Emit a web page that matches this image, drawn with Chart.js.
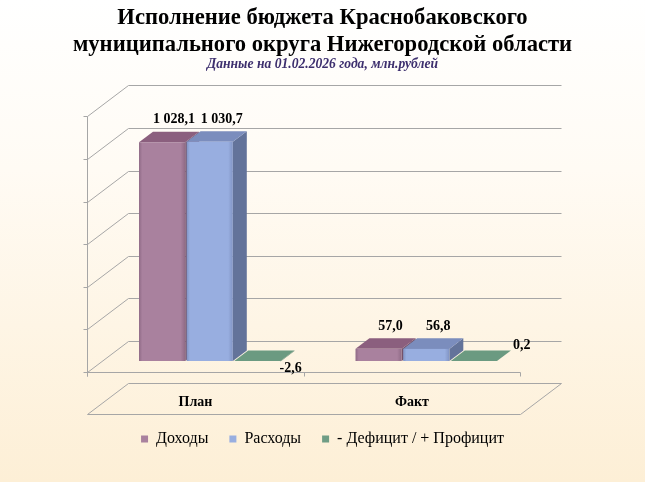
<!DOCTYPE html>
<html>
<head>
 <meta charset="UTF-8">
 <title>Исполнение бюджета Краснобаковского муниципального округа</title>
 <script src="https://cdn.jsdelivr.net/npm/chart.js@4.4.1/dist/chart.umd.min.js"></script>
 <style>
  html, body { margin: 0; padding: 0; }
  #wrap { position: relative; width: 645px; height: 482px;
          background: linear-gradient(to bottom, #ffffff 0%, #fffbf4 35%, #fdefd6 100%); }
 </style>
</head>
<body>
<div id="wrap"><canvas id="myChart"></canvas></div>

<script>
 // data, mln rub
 var categories = ["План", "Факт"];
 var seriesNames = ["Доходы", "Расходы", "- Дефицит / + Профицит"];
 var incomeValues = [1028.1, 57.0];
 var expenseValues = [1030.7, 56.8];
 var balanceValues = [-2.6, 0.2];
 var axisMin = 0, axisMax = 1200, axisStep = 200;

 var serif = "'Times New Roman', 'Liberation Serif', serif";

 // face colours: front / top / side
 var faceColors = [
  { front: "#a9819e", edge: "#8f6a86", top: "#8b5f7e", side: "#74526b" },
  { front: "#98aee0", edge: "#8194c4", top: "#7b8dbd", side: "#63739a" },
  { front: "#6f9d85", edge: "#5d8a72", top: "#6b9a81", side: "#557f69" }
 ];

 // 3d box: full depth vector, bar plane position and bar depth as fractions of it
 var DEPTH_X = 41, DEPTH_Y = -31;
 var BAR_FRONT = 0.35, BAR_DEPTH = 0.34;

 function fmt(v)
 {
  var s = Math.abs(v).toFixed(1).split(".");
  var whole = s[0].replace(/\B(?=(\d{3})+(?!\d))/g, " ");
  return (v < 0 ? "-" : "") + whole + "," + s[1];
 }

 function px(v) { return Math.round(v) + 0.5; }

 function drawBar(ctx, el, c)
 {
  var p = el.getProps(["x", "y", "base", "width"], true);
  var l = p.x - p.width / 2, r = p.x + p.width / 2;
  var top = Math.min(p.y, p.base), bot = Math.max(p.y, p.base);
  var dx = BAR_DEPTH * DEPTH_X, dy = BAR_DEPTH * DEPTH_Y;

  ctx.fillStyle = c.side;
  ctx.beginPath();
  ctx.moveTo(r, top); ctx.lineTo(r + dx, top + dy); ctx.lineTo(r + dx, bot + dy); ctx.lineTo(r, bot);
  ctx.closePath(); ctx.fill();

  ctx.fillStyle = c.top;
  ctx.beginPath();
  ctx.moveTo(l, top); ctx.lineTo(r, top); ctx.lineTo(r + dx, top + dy); ctx.lineTo(l + dx, top + dy);
  ctx.closePath(); ctx.fill();

  if (bot - top > 1)
  {
   var g = ctx.createLinearGradient(l, 0, r, 0);
   g.addColorStop(0, c.edge);
   g.addColorStop(0.07, c.front);
   g.addColorStop(0.9, c.front);
   g.addColorStop(1, c.edge);
   ctx.fillStyle = g;
   ctx.fillRect(l, top, r - l, bot - top);
  }
  return { l: l, r: r, top: top, bot: bot, x: p.x, dx: dx, dy: dy };
 }

 var box3d = {
  id: "box3d",
  beforeDatasetsDraw: function(chart)
  {
   var ctx = chart.ctx, area = chart.chartArea;
   var ys = chart.scales.y, xs = chart.scales.x;
   var fx = -BAR_FRONT * DEPTH_X, fy = -BAR_FRONT * DEPTH_Y;
   var bx = (1 - BAR_FRONT) * DEPTH_X, by = (1 - BAR_FRONT) * DEPTH_Y;
   var y0 = ys.getPixelForValue(0), yTop = ys.getPixelForValue(axisMax);
   var axX = px(area.left + fx);

   ctx.save();
   ctx.strokeStyle = "#a6a6a6";
   ctx.lineWidth = 1;
   ctx.beginPath();
   // walls and gridlines
   ys.ticks.forEach(function(t)
   {
    var py = ys.getPixelForValue(t.value);
    ctx.moveTo(axX - 4, px(py + fy));
    ctx.lineTo(axX, px(py + fy));
    ctx.lineTo(px(area.left + bx), px(py + by));
    ctx.lineTo(px(area.right + bx), px(py + by));
   });
   // value axis
   ctx.moveTo(axX, px(yTop + fy));
   ctx.lineTo(axX, px(y0 + fy) + 4);
   // floor front edge with category ticks
   var floorY = px(y0 + fy);
   ctx.moveTo(axX, floorY);
   ctx.lineTo(px(area.right + fx), floorY);
   [area.left, (area.left + area.right) / 2, area.right].forEach(function(b)
   {
    ctx.moveTo(px(b + fx), floorY);
    ctx.lineTo(px(b + fx), floorY + 4);
   });
   // category plate
   var plateF = px(y0 + fy + 42), plateB = px(y0 + by + 42);
   ctx.moveTo(axX, plateF);
   ctx.lineTo(px(area.left + bx), plateB);
   ctx.lineTo(px(area.right + bx), plateB);
   ctx.lineTo(px(area.right + fx), plateF);
   ctx.closePath();
   ctx.stroke();

   // bars, left to right inside each category
   var marks = [];
   for (var i = 0; i < categories.length; i++)
   {
    for (var d = 0; d < chart.data.datasets.length; d++)
    {
     var el = chart.getDatasetMeta(d).data[i];
     marks.push({ d: d, v: chart.data.datasets[d].data[i], m: drawBar(ctx, el, faceColors[d]) });
    }
   }

   // value labels
   ctx.fillStyle = "#000";
   ctx.font = "bold 14px " + serif;
   ctx.textBaseline = "middle";
   marks.forEach(function(k)
   {
    var m = k.m;
    if (k.d < 2)
    {
     ctx.textAlign = "center";
     ctx.fillText(fmt(k.v), m.x + m.dx / 2 + 5, m.top + m.dy - 12);
    }
    else if (k.v < 0)
    {
     ctx.textAlign = "left";
     ctx.fillText(fmt(k.v), m.r - 1, m.bot + 7);
    }
    else
    {
     ctx.textAlign = "left";
     ctx.fillText(fmt(k.v), m.r + m.dx + 2, m.top + m.dy - 5);
    }
   });

   // category labels on the plate
   ctx.textAlign = "center";
   categories.forEach(function(c, i)
   {
    ctx.fillText(c, xs.getPixelForValue(i) + fx, y0 + fy + 31);
   });
   ctx.restore();
   return false;
  }
 };

 var ctx = document.getElementById("myChart");
 var myChart = new Chart(ctx, {
  type: "bar",
  data: {
   labels: categories,
   datasets: [
    { label: seriesNames[0], data: incomeValues, backgroundColor: faceColors[0].front, borderWidth: 0 },
    { label: seriesNames[1], data: expenseValues, backgroundColor: faceColors[1].front, borderWidth: 0 },
    { label: seriesNames[2], data: balanceValues, backgroundColor: faceColors[2].front, borderWidth: 0 }
   ]
  },
  options: {
   responsive: true,
   maintainAspectRatio: false,
   animation: false,
   events: [],
   categoryPercentage: 0.66,
   barPercentage: 0.97,
   layout: { padding: { top: 0, left: 0, right: 0, bottom: 25 } },
   scales: {
    x: { display: true, grid: { display: false }, border: { display: false }, ticks: { display: false },
         afterFit: function(s) { s.height = 49; } },
    y: { min: axisMin, max: axisMax, ticks: { stepSize: axisStep, display: false },
         grid: { display: false }, border: { display: false },
         afterFit: function(s) { s.width = 101.5; } },
    yRight: { position: "right", min: axisMin, max: axisMax, ticks: { display: false },
         grid: { display: false }, border: { display: false },
         afterFit: function(s) { s.width = 110.5; } }
   },
   plugins: {
    tooltip: { enabled: false },
    title: {
     display: true,
     text: ["Исполнение бюджета Краснобаковского", "муниципального округа Нижегородской области"],
     color: "#000",
     font: { family: serif, size: 22.6, weight: "bold", lineHeight: 1.19 },
     padding: { top: 5, bottom: 0 }
    },
    subtitle: {
     display: true,
     text: "Данные на 01.02.2026 года, млн.рублей",
     color: "#3d2f6e",
     font: { family: serif, size: 13.6, weight: "bold", style: "italic", lineHeight: 1.1 },
     padding: { top: -2, bottom: 33.9 }
    },
    legend: {
     position: "bottom",
     labels: { color: "#000", boxWidth: 7, boxHeight: 7, padding: 21,
               font: { family: serif, size: 16 } }
    }
   }
  },
  plugins: [box3d]
 });
</script>
</body>
</html>
